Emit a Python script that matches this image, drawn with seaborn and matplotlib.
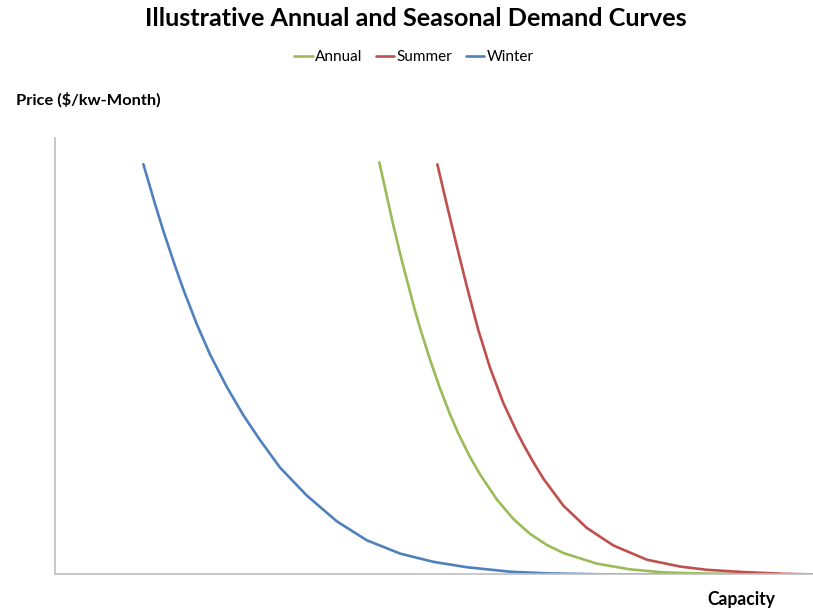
import matplotlib
matplotlib.use("Agg")
import matplotlib.pyplot as plt
import seaborn as sns
import pandas as pd

# Demand curves: capacity (x) vs price (y), relative units
annual_capacity = [42.78, 44.63, 45.74, 47.49, 48.15, 49.47, 50.79, 52.11, 53.21, 54.75,
                   56.07, 58.27, 60.46, 62.66, 64.87, 67.06, 71.46, 75.86, 80.25, 85.09,
                   91.69, 100.0]
annual_price = [94.43, 80.0, 72.0, 60.45, 56.49, 49.23, 42.63, 36.69, 32.29, 26.9,
                22.94, 17.22, 12.73, 9.32, 6.78, 4.92, 2.5, 1.18, 0.48, 0.24,
                0.07, 0.0]

summer_capacity = [50.44, 51.68, 53.00, 54.31, 55.84, 57.39, 59.14, 60.91, 61.78, 63.10,
                   64.42, 67.06, 70.15, 73.65, 78.06, 82.45, 85.98, 90.37, 96.04, 100.0]
summer_price = [93.97, 84.79, 75.29, 66.12, 56.02, 47.34, 39.29, 32.74, 29.83, 25.74,
                21.98, 15.78, 10.68, 6.66, 3.40, 1.82, 1.08, 0.60, 0.17, 0.0]

winter_capacity = [11.65, 13.19, 14.29, 15.83, 16.93, 18.69, 20.45, 22.65, 24.84, 27.0,
                   29.68, 33.21, 37.16, 41.12, 45.51, 49.91, 54.31, 60.03, 64.87, 71.90,
                   85.09, 100.0]
winter_price = [94.0, 84.9, 78.7, 70.7, 65.3, 57.4, 50.4, 43.0, 36.5, 30.9,
                24.5, 18.1, 12.2, 7.85, 4.8, 2.9, 1.67, 0.64, 0.26, 0.05,
                0.0, 0.0]

series_names = ["Annual", "Summer", "Winter"]
series_colors = ["#9BBB59", "#C0504D", "#4F81BD"]

frames = []
for name, xs, ys in zip(series_names,
                        [annual_capacity, summer_capacity, winter_capacity],
                        [annual_price, summer_price, winter_price]):
    frames.append(pd.DataFrame({"Capacity": xs, "Price": ys, "Series": name}))
df = pd.concat(frames, ignore_index=True)

sns.set_theme(style="white")
plt.rcParams["font.family"] = ["Lato", "DejaVu Sans"]
plt.rcParams["text.color"] = "black"

fig = plt.figure(figsize=(8.13, 6.10), dpi=100)
ax = fig.add_axes([0.0677, 0.0582, 0.9323, 0.7156])

sns.lineplot(data=df, x="Capacity", y="Price", hue="Series", hue_order=series_names,
             palette=series_colors, sort=False, estimator=None, linewidth=1.9, ax=ax)
for line in ax.get_lines():
    line.set_solid_joinstyle("round")

ax.set_xlim(0, 100)
ax.set_ylim(0, 100)
ax.set_xticks([])
ax.set_yticks([])
ax.set_xlabel("")
ax.set_ylabel("")
for side in ["top", "right"]:
    ax.spines[side].set_visible(False)
for side in ["left", "bottom"]:
    ax.spines[side].set_color("#BFBFBF")
    ax.spines[side].set_linewidth(1.2)

handles, labels = ax.get_legend_handles_labels()
ax.legend(handles, labels, loc="center", bbox_to_anchor=(414 / 813, 1 - 57 / 610),
          bbox_transform=fig.transFigure, ncol=3, frameon=False, fontsize=11,
          handlelength=1.2, handletextpad=0.15, columnspacing=0.9)

renderer = fig.canvas.get_renderer()


def fitted_text(x, y, s, width_px, size, **kw):
    t = fig.text(x, y, s, fontsize=size, fontweight="bold", va="center", **kw)
    w = t.get_window_extent(renderer=renderer).width
    t.set_fontsize(size * width_px / w)
    return t


fitted_text(416 / 813, 1 - 19 / 610, "Illustrative Annual and Seasonal Demand Curves",
            546, 16, ha="center")
fitted_text(16 / 813, 1 - 100 / 610, "Price ($/kw-Month)", 144, 11, ha="left")
fitted_text(741 / 813, 1 - 600 / 610, "Capacity", 68, 11, ha="center")

fig.savefig("out.png", dpi=100)
